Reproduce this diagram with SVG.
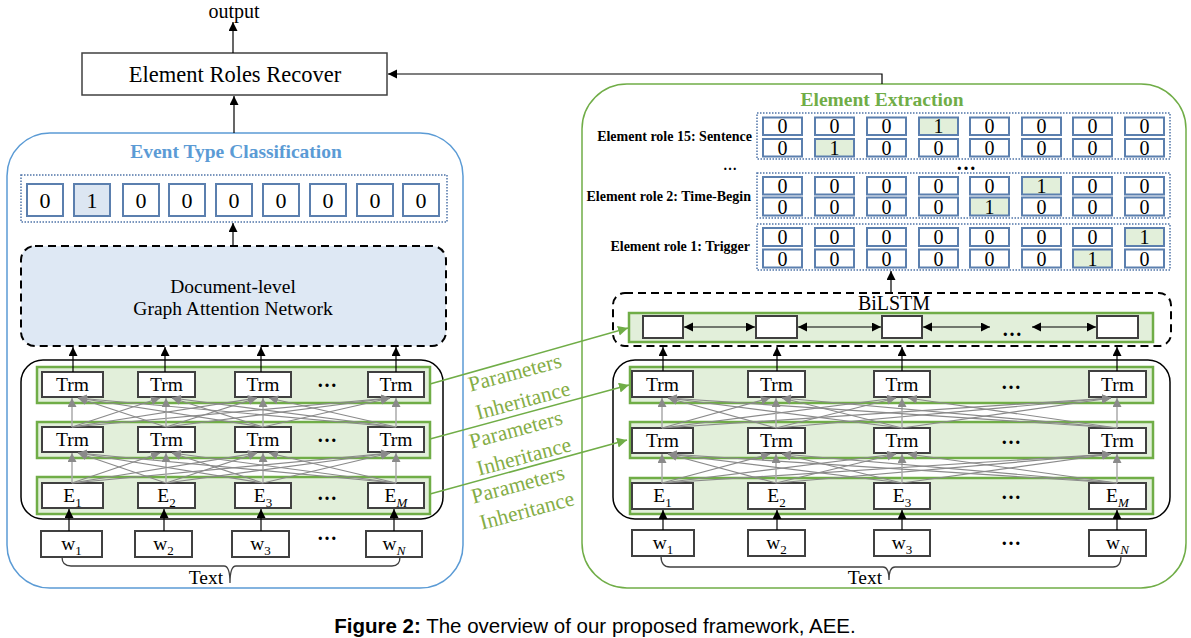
<svg xmlns="http://www.w3.org/2000/svg" width="1191" height="638" viewBox="0 0 1191 638">
<defs>
<marker id="ab" markerUnits="userSpaceOnUse" markerWidth="10" markerHeight="10" refX="9" refY="4.5" orient="auto-start-reverse"><path d="M0,0 L9,4.5 L0,9 z" fill="#000"/></marker>
<marker id="ag" markerUnits="userSpaceOnUse" markerWidth="10" markerHeight="10" refX="9" refY="4.5" orient="auto"><path d="M0,0 L9,4.5 L0,9 z" fill="#8a8a8a"/></marker>
<marker id="agr" markerUnits="userSpaceOnUse" markerWidth="12" markerHeight="12" refX="10" refY="5" orient="auto"><path d="M0,0 L10,5 L0,10 z" fill="#70ad47"/></marker>
</defs>
<style>
text{font-family:"Liberation Serif","Times New Roman",serif;fill:#000;}
.box{fill:#fff;stroke:#404040;stroke-width:2;}
.row{fill:#e2efda;stroke:#70ad47;stroke-width:2.5;}
.cell{fill:#fff;stroke:#5b7fae;stroke-width:2;}
.hlb{fill:#dce6f2;}
.hlg{fill:#e2efda;}
.dot{fill:none;stroke:#4f74a8;stroke-width:1.5;stroke-dasharray:1.5 1.5;}
.lbl{font-size:19.5px;text-anchor:middle;}
.sub{font-size:13px;}
.d22{font-size:22px;text-anchor:middle;}
.d20{font-size:20px;text-anchor:middle;}
.arr{stroke:#000;stroke-width:1.2;fill:none;marker-end:url(#ab);}
.darr{stroke:#000;stroke-width:1.2;fill:none;marker-end:url(#ab);marker-start:url(#ab);}
.gx{stroke:#8a8a8a;stroke-width:1.2;marker-end:url(#ag);}
.gv{stroke:#aaa;stroke-width:1.5;marker-end:url(#ag);}
.gl{stroke:#70ad47;stroke-width:1.5;marker-end:url(#agr);}
.pi{font-size:21.5px;fill:#84ad46;text-anchor:middle;}
.dots{font-weight:bold;font-size:20px;text-anchor:middle;}
.role{font-weight:bold;font-size:14px;text-anchor:end;}
.dash{stroke:#000;stroke-width:2;stroke-dasharray:8 5;}
.brace{fill:none;stroke:#404040;stroke-width:1.3;}
</style>

<!-- Output -->
<g id="output"><text x="234" y="18" font-size="20" text-anchor="middle">output</text></g>

<g id="element-roles-recover">
<rect x="82" y="53" width="305" height="42" fill="#fff" stroke="#404040" stroke-width="1.5"/>
<text x="235" y="82" font-size="22.5" text-anchor="middle">Element Roles Recover</text>
</g>

<!-- LEFT PANEL -->
<g id="event-type-classification">
<rect x="7" y="133" width="456" height="455" rx="43" fill="#fff" stroke="#5b9bd5" stroke-width="1.5"/>
<text x="236" y="158" font-size="19.5" font-weight="bold" text-anchor="middle" style="fill:#5b9bd5">Event Type Classification</text>
</g>

<g id="type-vector">
<rect class="dot" x="21" y="175" width="426" height="47"/>
<rect class="cell" x="27" y="184" width="36" height="32"/>
<rect class="cell hlb" x="74" y="184" width="36" height="32"/>
<rect class="cell" x="123" y="184" width="36" height="32"/>
<rect class="cell" x="169" y="184" width="36" height="32"/>
<rect class="cell" x="216" y="184" width="36" height="32"/>
<rect class="cell" x="263" y="184" width="36" height="32"/>
<rect class="cell" x="310" y="184" width="36" height="32"/>
<rect class="cell" x="357" y="184" width="36" height="32"/>
<rect class="cell" x="403" y="184" width="36" height="32"/>
<text class="d22" x="45" y="208">0</text>
<text class="d22" x="92" y="208">1</text>
<text class="d22" x="141" y="208">0</text>
<text class="d22" x="187" y="208">0</text>
<text class="d22" x="234" y="208">0</text>
<text class="d22" x="281" y="208">0</text>
<text class="d22" x="328" y="208">0</text>
<text class="d22" x="375" y="208">0</text>
<text class="d22" x="421" y="208">0</text>
</g>

<g id="gat">
<rect class="dash" x="21" y="246" width="425" height="100" rx="14" fill="#dee8f4"/>
<text class="lbl" x="233" y="293">Document-level</text>
<text class="lbl" x="233" y="315">Graph Attention Network</text>
</g>

<g id="left-encoder">
<rect x="21" y="360" width="422" height="159" rx="22" fill="none" stroke="#000" stroke-width="1.5"/>
<rect class="row" x="37" y="367" width="393" height="36"/>
<rect class="row" x="37" y="422" width="393" height="36"/>
<rect class="row" x="37" y="477" width="393" height="37"/>
</g>

<g id="left-trm1">
<rect class="box" x="42" y="372" width="61" height="25"/><text class="lbl" x="72.5" y="391">Trm</text>
<rect class="box" x="138" y="372" width="57" height="25"/><text class="lbl" x="166.5" y="391">Trm</text>
<rect class="box" x="235" y="372" width="56" height="25"/><text class="lbl" x="263" y="391">Trm</text>
<text class="dots" x="327" y="387">…</text>
<rect class="box" x="368" y="372" width="56" height="25"/><text class="lbl" x="396" y="391">Trm</text>
</g>
<g id="left-trm2">
<rect class="box" x="42" y="427" width="61" height="25"/><text class="lbl" x="72.5" y="446">Trm</text>
<rect class="box" x="138" y="427" width="57" height="25"/><text class="lbl" x="166.5" y="446">Trm</text>
<rect class="box" x="235" y="427" width="56" height="25"/><text class="lbl" x="263" y="446">Trm</text>
<text class="dots" x="327" y="442">…</text>
<rect class="box" x="368" y="427" width="56" height="25"/><text class="lbl" x="396" y="446">Trm</text>
</g>
<g id="left-emb">
<rect class="box" x="42" y="483" width="61" height="25"/><text class="lbl" x="72.5" y="502">E<tspan class="sub" dy="5">1</tspan></text>
<rect class="box" x="138" y="483" width="57" height="25"/><text class="lbl" x="166.5" y="502">E<tspan class="sub" dy="5">2</tspan></text>
<rect class="box" x="235" y="483" width="56" height="25"/><text class="lbl" x="263" y="502">E<tspan class="sub" dy="5">3</tspan></text>
<text class="dots" x="327" y="500">…</text>
<rect class="box" x="368" y="483" width="56" height="25"/><text class="lbl" x="396" y="502">E<tspan class="sub" dy="5" font-style="italic">M</tspan></text>
</g>
<g id="left-words">
<rect class="box" x="41" y="531" width="61" height="26"/><text class="lbl" x="71.5" y="550">w<tspan class="sub" dy="5">1</tspan></text>
<rect class="box" x="135" y="531" width="57" height="26"/><text class="lbl" x="163.5" y="550">w<tspan class="sub" dy="5">2</tspan></text>
<rect class="box" x="232" y="531" width="57" height="26"/><text class="lbl" x="260.5" y="550">w<tspan class="sub" dy="5">3</tspan></text>
<text class="dots" x="327" y="540">…</text>
<rect class="box" x="366" y="531" width="56" height="26"/><text class="lbl" x="394" y="550">w<tspan class="sub" dy="5" font-style="italic">N</tspan></text>
<path class="brace" d="M62,557 Q62,566 71,566 H224 Q230,566 230,583 Q230,566 236,566 H392 Q400,566 400,557"/>
<text class="lbl" x="206" y="584">Text</text>
</g>

<!-- RIGHT PANEL -->
<g id="element-extraction">
<rect x="582" y="84" width="604" height="504" rx="45" fill="#fff" stroke="#70ad47" stroke-width="1.5"/>
<text x="882" y="106" font-size="19.5" font-weight="bold" text-anchor="middle" style="fill:#70ad47">Element Extraction</text>
</g>

<g id="role-15">
<text class="role" x="752" y="141">Element role 15: Sentence</text>
<rect class="dot" x="757" y="113" width="413" height="46"/>
<rect class="cell" x="763" y="117.5" width="39" height="17.5"/><text class="d20" x="782.5" y="133">0</text>
<rect class="cell" x="815" y="117.5" width="39" height="17.5"/><text class="d20" x="834.5" y="133">0</text>
<rect class="cell" x="867" y="117.5" width="39" height="17.5"/><text class="d20" x="886.5" y="133">0</text>
<rect class="cell hlg" x="919" y="117.5" width="39" height="17.5"/><text class="d20" x="938.5" y="133">1</text>
<rect class="cell" x="970" y="117.5" width="39" height="17.5"/><text class="d20" x="989.5" y="133">0</text>
<rect class="cell" x="1022" y="117.5" width="39" height="17.5"/><text class="d20" x="1041.5" y="133">0</text>
<rect class="cell" x="1073" y="117.5" width="39" height="17.5"/><text class="d20" x="1092.5" y="133">0</text>
<rect class="cell" x="1125" y="117.5" width="39" height="17.5"/><text class="d20" x="1144.5" y="133">0</text>
<rect class="cell" x="763" y="139" width="39" height="17.5"/><text class="d20" x="782.5" y="155">0</text>
<rect class="cell hlg" x="815" y="139" width="39" height="17.5"/><text class="d20" x="834.5" y="155">1</text>
<rect class="cell" x="867" y="139" width="39" height="17.5"/><text class="d20" x="886.5" y="155">0</text>
<rect class="cell" x="919" y="139" width="39" height="17.5"/><text class="d20" x="938.5" y="155">0</text>
<rect class="cell" x="970" y="139" width="39" height="17.5"/><text class="d20" x="989.5" y="155">0</text>
<rect class="cell" x="1022" y="139" width="39" height="17.5"/><text class="d20" x="1041.5" y="155">0</text>
<rect class="cell" x="1073" y="139" width="39" height="17.5"/><text class="d20" x="1092.5" y="155">0</text>
<rect class="cell" x="1125" y="139" width="39" height="17.5"/><text class="d20" x="1144.5" y="155">0</text>
</g>
<g id="role-dots">
<text x="730" y="170" font-size="14" font-weight="bold" text-anchor="middle">…</text>
<text class="dots" x="966" y="170">…</text>
</g>
<g id="role-2">
<text class="role" x="751" y="201">Element role 2: Time-Begin</text>
<rect class="dot" x="757" y="173" width="413" height="45"/>
<rect class="cell" x="763" y="177" width="39" height="17.5"/><text class="d20" x="782.5" y="192.5">0</text>
<rect class="cell" x="815" y="177" width="39" height="17.5"/><text class="d20" x="834.5" y="192.5">0</text>
<rect class="cell" x="867" y="177" width="39" height="17.5"/><text class="d20" x="886.5" y="192.5">0</text>
<rect class="cell" x="919" y="177" width="39" height="17.5"/><text class="d20" x="938.5" y="192.5">0</text>
<rect class="cell" x="970" y="177" width="39" height="17.5"/><text class="d20" x="989.5" y="192.5">0</text>
<rect class="cell hlg" x="1022" y="177" width="39" height="17.5"/><text class="d20" x="1041.5" y="192.5">1</text>
<rect class="cell" x="1073" y="177" width="39" height="17.5"/><text class="d20" x="1092.5" y="192.5">0</text>
<rect class="cell" x="1125" y="177" width="39" height="17.5"/><text class="d20" x="1144.5" y="192.5">0</text>
<rect class="cell" x="763" y="197.5" width="39" height="18"/><text class="d20" x="782.5" y="213.5">0</text>
<rect class="cell" x="815" y="197.5" width="39" height="18"/><text class="d20" x="834.5" y="213.5">0</text>
<rect class="cell" x="867" y="197.5" width="39" height="18"/><text class="d20" x="886.5" y="213.5">0</text>
<rect class="cell" x="919" y="197.5" width="39" height="18"/><text class="d20" x="938.5" y="213.5">0</text>
<rect class="cell hlg" x="970" y="197.5" width="39" height="18"/><text class="d20" x="989.5" y="213.5">1</text>
<rect class="cell" x="1022" y="197.5" width="39" height="18"/><text class="d20" x="1041.5" y="213.5">0</text>
<rect class="cell" x="1073" y="197.5" width="39" height="18"/><text class="d20" x="1092.5" y="213.5">0</text>
<rect class="cell" x="1125" y="197.5" width="39" height="18"/><text class="d20" x="1144.5" y="213.5">0</text>
</g>
<g id="role-1">
<text class="role" x="750" y="251">Element role 1: Trigger</text>
<rect class="dot" x="757" y="224" width="413" height="46"/>
<rect class="cell" x="763" y="228" width="39" height="18"/><text class="d20" x="782.5" y="244">0</text>
<rect class="cell" x="815" y="228" width="39" height="18"/><text class="d20" x="834.5" y="244">0</text>
<rect class="cell" x="867" y="228" width="39" height="18"/><text class="d20" x="886.5" y="244">0</text>
<rect class="cell" x="919" y="228" width="39" height="18"/><text class="d20" x="938.5" y="244">0</text>
<rect class="cell" x="970" y="228" width="39" height="18"/><text class="d20" x="989.5" y="244">0</text>
<rect class="cell" x="1022" y="228" width="39" height="18"/><text class="d20" x="1041.5" y="244">0</text>
<rect class="cell" x="1073" y="228" width="39" height="18"/><text class="d20" x="1092.5" y="244">0</text>
<rect class="cell hlg" x="1125" y="228" width="39" height="18"/><text class="d20" x="1144.5" y="244">1</text>
<rect class="cell" x="763" y="249.5" width="39" height="18"/><text class="d20" x="782.5" y="265.5">0</text>
<rect class="cell" x="815" y="249.5" width="39" height="18"/><text class="d20" x="834.5" y="265.5">0</text>
<rect class="cell" x="867" y="249.5" width="39" height="18"/><text class="d20" x="886.5" y="265.5">0</text>
<rect class="cell" x="919" y="249.5" width="39" height="18"/><text class="d20" x="938.5" y="265.5">0</text>
<rect class="cell" x="970" y="249.5" width="39" height="18"/><text class="d20" x="989.5" y="265.5">0</text>
<rect class="cell" x="1022" y="249.5" width="39" height="18"/><text class="d20" x="1041.5" y="265.5">0</text>
<rect class="cell hlg" x="1073" y="249.5" width="39" height="18"/><text class="d20" x="1092.5" y="265.5">1</text>
<rect class="cell" x="1125" y="249.5" width="39" height="18"/><text class="d20" x="1144.5" y="265.5">0</text>
</g>

<g id="bilstm">
<rect class="dash" x="613" y="293" width="558" height="53" rx="12" fill="none"/>
<text x="894" y="310" font-size="20" text-anchor="middle">BiLSTM</text>
<rect class="row" x="629" y="313" width="524" height="29"/>
<rect class="box" x="643" y="316" width="40" height="22"/>
<rect class="box" x="756" y="316" width="41" height="22"/>
<rect class="box" x="882" y="316" width="40" height="22"/>
<text class="dots" x="1012" y="336">…</text>
<rect class="box" x="1097" y="316" width="41" height="22"/>
</g>

<g id="right-encoder">
<rect x="613" y="360" width="557" height="159" rx="22" fill="none" stroke="#000" stroke-width="1.5"/>
<rect class="row" x="630" y="367" width="523" height="36"/>
<rect class="row" x="630" y="422" width="523" height="36"/>
<rect class="row" x="630" y="478" width="523" height="36"/>
</g>
<g id="right-trm1">
<rect class="box" x="632" y="371" width="61" height="26"/><text class="lbl" x="662.5" y="391">Trm</text>
<rect class="box" x="748" y="371" width="57" height="26"/><text class="lbl" x="776.5" y="391">Trm</text>
<rect class="box" x="874" y="371" width="56" height="26"/><text class="lbl" x="902" y="391">Trm</text>
<text class="dots" x="1011" y="389">…</text>
<rect class="box" x="1089" y="371" width="57" height="26"/><text class="lbl" x="1117.5" y="391">Trm</text>
</g>
<g id="right-trm2">
<rect class="box" x="632" y="428" width="61" height="25"/><text class="lbl" x="662.5" y="447">Trm</text>
<rect class="box" x="748" y="428" width="57" height="25"/><text class="lbl" x="776.5" y="447">Trm</text>
<rect class="box" x="874" y="428" width="56" height="25"/><text class="lbl" x="902" y="447">Trm</text>
<text class="dots" x="1011" y="444">…</text>
<rect class="box" x="1089" y="428" width="57" height="25"/><text class="lbl" x="1117.5" y="447">Trm</text>
</g>
<g id="right-emb">
<rect class="box" x="632" y="483" width="61" height="26"/><text class="lbl" x="662.5" y="502">E<tspan class="sub" dy="5">1</tspan></text>
<rect class="box" x="748" y="483" width="57" height="26"/><text class="lbl" x="776.5" y="502">E<tspan class="sub" dy="5">2</tspan></text>
<rect class="box" x="874" y="483" width="56" height="26"/><text class="lbl" x="902" y="502">E<tspan class="sub" dy="5">3</tspan></text>
<text class="dots" x="1011" y="499">…</text>
<rect class="box" x="1089" y="483" width="57" height="26"/><text class="lbl" x="1117.5" y="502">E<tspan class="sub" dy="5" font-style="italic">M</tspan></text>
</g>
<g id="right-words">
<rect class="box" x="632" y="530" width="62" height="26"/><text class="lbl" x="663" y="549">w<tspan class="sub" dy="5">1</tspan></text>
<rect class="box" x="748" y="530" width="57" height="26"/><text class="lbl" x="776.5" y="549">w<tspan class="sub" dy="5">2</tspan></text>
<rect class="box" x="874" y="530" width="56" height="26"/><text class="lbl" x="902" y="549">w<tspan class="sub" dy="5">3</tspan></text>
<text class="dots" x="1011" y="545">…</text>
<rect class="box" x="1089" y="530" width="57" height="26"/><text class="lbl" x="1117.5" y="549">w<tspan class="sub" dy="5" font-style="italic">N</tspan></text>
<path class="brace" d="M661,556 Q661,567 670,567 H883 Q889,567 889,580 Q889,567 895,567 H1113 Q1121,567 1121,556"/>
<text class="lbl" x="865" y="584">Text</text>
</g>

<g id="param-labels">
<text class="pi" transform="translate(515,373) rotate(-15)" y="6.5">Parameters</text>
<text class="pi" transform="translate(523,401) rotate(-15)" y="6.5">Inheritance</text>
<text class="pi" transform="translate(516,430) rotate(-15)" y="6.5">Parameters</text>
<text class="pi" transform="translate(524,457) rotate(-15)" y="6.5">Inheritance</text>
<text class="pi" transform="translate(518,485) rotate(-15)" y="6.5">Parameters</text>
<text class="pi" transform="translate(527,511) rotate(-15)" y="6.5">Inheritance</text>
</g>

<g id="connectors">
<line class="arr" x1="233" y1="53" x2="233" y2="22"/>
<line class="arr" x1="234" y1="133" x2="234" y2="96"/>
<path class="arr" d="M882,84 V74 H388"/>
<line class="arr" x1="233" y1="246" x2="233" y2="223"/>
<line class="arr" x1="73" y1="372" x2="73" y2="347"/>
<line class="arr" x1="165" y1="372" x2="165" y2="347"/>
<line class="arr" x1="261" y1="372" x2="261" y2="347"/>
<line class="arr" x1="396" y1="372" x2="396" y2="347"/>
<line class="arr" x1="69" y1="531" x2="69" y2="509"/>
<line class="arr" x1="164" y1="531" x2="164" y2="509"/>
<line class="arr" x1="261" y1="531" x2="261" y2="509"/>
<line class="arr" x1="394" y1="531" x2="394" y2="509"/>
<!-- left cross A -->
<line class="gv" x1="72" y1="483" x2="72" y2="453"/>
<line class="gx" x1="72" y1="483" x2="160" y2="453"/>
<line class="gx" x1="72" y1="483" x2="257" y2="453"/>
<line class="gx" x1="72" y1="483" x2="390" y2="453"/>
<line class="gx" x1="166" y1="483" x2="78" y2="453"/>
<line class="gv" x1="166" y1="483" x2="166" y2="453"/>
<line class="gx" x1="166" y1="483" x2="257" y2="453"/>
<line class="gx" x1="166" y1="483" x2="390" y2="453"/>
<line class="gx" x1="263" y1="483" x2="78" y2="453"/>
<line class="gx" x1="263" y1="483" x2="172" y2="453"/>
<line class="gv" x1="263" y1="483" x2="263" y2="453"/>
<line class="gx" x1="263" y1="483" x2="390" y2="453"/>
<line class="gx" x1="396" y1="483" x2="78" y2="453"/>
<line class="gx" x1="396" y1="483" x2="172" y2="453"/>
<line class="gx" x1="396" y1="483" x2="269" y2="453"/>
<line class="gv" x1="396" y1="483" x2="396" y2="453"/>
<!-- left cross B -->
<line class="gv" x1="72" y1="427" x2="72" y2="398"/>
<line class="gx" x1="72" y1="427" x2="160" y2="398"/>
<line class="gx" x1="72" y1="427" x2="257" y2="398"/>
<line class="gx" x1="72" y1="427" x2="390" y2="398"/>
<line class="gx" x1="166" y1="427" x2="78" y2="398"/>
<line class="gv" x1="166" y1="427" x2="166" y2="398"/>
<line class="gx" x1="166" y1="427" x2="257" y2="398"/>
<line class="gx" x1="166" y1="427" x2="390" y2="398"/>
<line class="gx" x1="263" y1="427" x2="78" y2="398"/>
<line class="gx" x1="263" y1="427" x2="172" y2="398"/>
<line class="gv" x1="263" y1="427" x2="263" y2="398"/>
<line class="gx" x1="263" y1="427" x2="390" y2="398"/>
<line class="gx" x1="396" y1="427" x2="78" y2="398"/>
<line class="gx" x1="396" y1="427" x2="172" y2="398"/>
<line class="gx" x1="396" y1="427" x2="269" y2="398"/>
<line class="gv" x1="396" y1="427" x2="396" y2="398"/>
<!-- right arrows -->
<line class="arr" x1="891" y1="293" x2="891" y2="271"/>
<line class="darr" x1="684" y1="327" x2="755" y2="327"/>
<line class="darr" x1="798" y1="327" x2="881" y2="327"/>
<line class="darr" x1="923" y1="327" x2="990" y2="327"/>
<line class="darr" x1="1032" y1="327" x2="1096" y2="327"/>
<line class="arr" x1="663" y1="371" x2="663" y2="347"/>
<line class="arr" x1="777" y1="371" x2="777" y2="347"/>
<line class="arr" x1="902" y1="371" x2="902" y2="347"/>
<line class="arr" x1="1117" y1="371" x2="1117" y2="347"/>
<line class="arr" x1="663" y1="530" x2="663" y2="510"/>
<line class="arr" x1="777" y1="530" x2="777" y2="510"/>
<line class="arr" x1="902" y1="530" x2="902" y2="510"/>
<line class="arr" x1="1117" y1="530" x2="1117" y2="510"/>
<!-- right cross A -->
<line class="gv" x1="662" y1="483" x2="662" y2="454"/>
<line class="gx" x1="662" y1="483" x2="770" y2="454"/>
<line class="gx" x1="662" y1="483" x2="896" y2="454"/>
<line class="gx" x1="662" y1="483" x2="1111" y2="454"/>
<line class="gx" x1="776" y1="483" x2="668" y2="454"/>
<line class="gv" x1="776" y1="483" x2="776" y2="454"/>
<line class="gx" x1="776" y1="483" x2="896" y2="454"/>
<line class="gx" x1="776" y1="483" x2="1111" y2="454"/>
<line class="gx" x1="902" y1="483" x2="668" y2="454"/>
<line class="gx" x1="902" y1="483" x2="782" y2="454"/>
<line class="gv" x1="902" y1="483" x2="902" y2="454"/>
<line class="gx" x1="902" y1="483" x2="1111" y2="454"/>
<line class="gx" x1="1117" y1="483" x2="668" y2="454"/>
<line class="gx" x1="1117" y1="483" x2="782" y2="454"/>
<line class="gx" x1="1117" y1="483" x2="908" y2="454"/>
<line class="gv" x1="1117" y1="483" x2="1117" y2="454"/>
<!-- right cross B -->
<line class="gv" x1="662" y1="428" x2="662" y2="398"/>
<line class="gx" x1="662" y1="428" x2="770" y2="398"/>
<line class="gx" x1="662" y1="428" x2="896" y2="398"/>
<line class="gx" x1="662" y1="428" x2="1111" y2="398"/>
<line class="gx" x1="776" y1="428" x2="668" y2="398"/>
<line class="gv" x1="776" y1="428" x2="776" y2="398"/>
<line class="gx" x1="776" y1="428" x2="896" y2="398"/>
<line class="gx" x1="776" y1="428" x2="1111" y2="398"/>
<line class="gx" x1="902" y1="428" x2="668" y2="398"/>
<line class="gx" x1="902" y1="428" x2="782" y2="398"/>
<line class="gv" x1="902" y1="428" x2="902" y2="398"/>
<line class="gx" x1="902" y1="428" x2="1111" y2="398"/>
<line class="gx" x1="1117" y1="428" x2="668" y2="398"/>
<line class="gx" x1="1117" y1="428" x2="782" y2="398"/>
<line class="gx" x1="1117" y1="428" x2="908" y2="398"/>
<line class="gv" x1="1117" y1="428" x2="1117" y2="398"/>
<!-- parameter inheritance -->
<line class="gl" x1="430" y1="384" x2="628" y2="328"/>
<line class="gl" x1="430" y1="439" x2="629" y2="385"/>
<line class="gl" x1="430" y1="494" x2="627" y2="440"/>
</g>

<g id="caption">
<text x="595" y="633" font-size="20.5" text-anchor="middle" style="font-family:'Liberation Sans','DejaVu Sans',sans-serif"><tspan font-weight="bold">Figure 2:</tspan> The overview of our proposed framework, AEE.</text>
</g>
</svg>
